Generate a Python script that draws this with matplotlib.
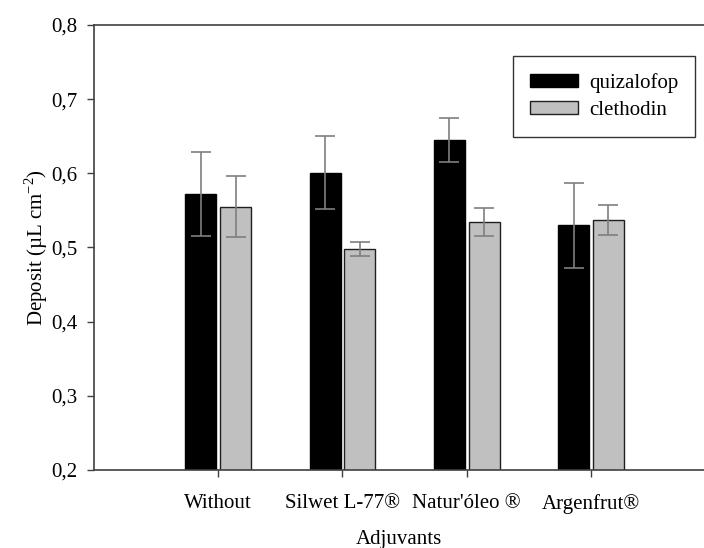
import numpy as np
import matplotlib
matplotlib.use("Agg")
import matplotlib.pyplot as plt
from matplotlib.ticker import FixedLocator

# Data
adjuvants = ["Without", "Silwet L-77®", "Natur'óleo ®", "Argenfrut®"]
quizalofop = [0.572, 0.601, 0.645, 0.530]
quizalofop_err = [0.057, 0.049, 0.030, 0.057]
clethodin = [0.555, 0.498, 0.534, 0.537]
clethodin_err = [0.041, 0.010, 0.019, 0.020]
y_ticks = [0.2, 0.3, 0.4, 0.5, 0.6, 0.7, 0.8]
y_ticklabels = ["0,2", "0,3", "0,4", "0,5", "0,6", "0,7", "0,8"]

plt.rcParams["font.family"] = ["Liberation Serif", "DejaVu Serif"]
plt.rcParams["font.size"] = 15
plt.rcParams["mathtext.fontset"] = "custom"
plt.rcParams["mathtext.rm"] = "Liberation Serif"

W, H = 704, 548
fig = plt.figure(figsize=(W / 100, H / 100), dpi=100)
ax = fig.add_axes([94 / W, 1 - 470 / H, 1 - 94 / W, (470 - 25) / H])

x = np.arange(len(adjuvants))
width = 0.25
offset = 0.14
err_kw = dict(ecolor="#7f7f7f", elinewidth=1.2, capsize=7, capthick=1.2)

ax.bar(x - offset, quizalofop, width, yerr=quizalofop_err, color="black",
       edgecolor="black", linewidth=1, label="quizalofop", error_kw=err_kw)
ax.bar(x + offset, clethodin, width, yerr=clethodin_err, color="#c0c0c0",
       edgecolor="#202020", linewidth=1, label="clethodin", error_kw=err_kw)

ax.set_xlim(-1.0, 3.91)
ax.set_ylim(0.2, 0.8)
ax.yaxis.set_major_locator(FixedLocator(y_ticks))
ax.set_yticklabels(y_ticklabels)
ax.set_xticks(x)
ax.set_xticklabels(adjuvants)

for side in ["left", "bottom", "top"]:
    ax.spines[side].set_color("#404040")
    ax.spines[side].set_linewidth(1.2)
ax.spines["right"].set_visible(False)
ax.tick_params(axis="both", direction="out", length=5, width=1, color="#404040")
ax.tick_params(axis="y", pad=7)
ax.tick_params(axis="x", pad=12)

ax.set_ylabel("Deposit (µL cm$^{\\mathregular{-2}}$)", labelpad=1)
ax.set_xlabel("Adjuvants", labelpad=12)

leg = ax.legend(loc="upper left", bbox_to_anchor=(513 / W, 1 - 56 / H),
                bbox_transform=fig.transFigure, frameon=True, fancybox=False,
                edgecolor="black", handlelength=2.3, handleheight=0.6,
                borderpad=0.8, labelspacing=0.4, handletextpad=0.55,
                borderaxespad=0)
leg.get_frame().set_linewidth(1)

fig.savefig("out.png", dpi=100)
